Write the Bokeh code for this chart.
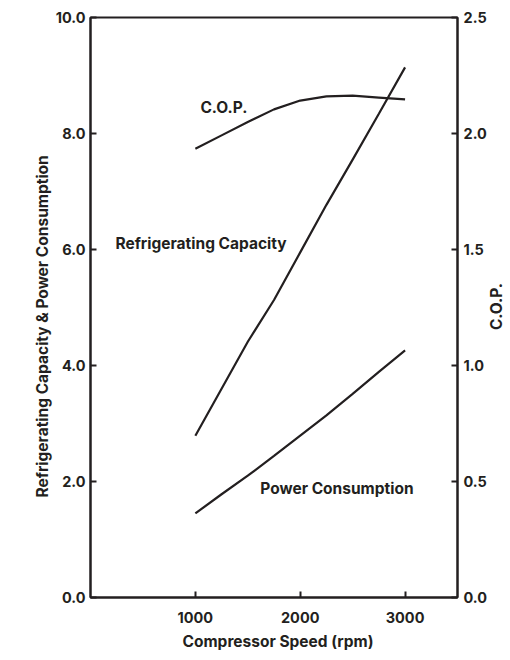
from bokeh.plotting import figure
from bokeh.models import Range1d, LinearAxis, FixedTicker, NumeralTickFormatter, Label, Title, Div
from bokeh.layouts import row
from bokeh.embed import file_html
from bokeh.resources import INLINE

# ---- data ----
speed = [1000, 1250, 1500, 1750, 2000, 2250, 2500, 2750, 3000]
refrigerating_capacity = [2.79, 3.60, 4.41, 5.13, 5.95, 6.77, 7.55, 8.34, 9.14]
power_consumption = [1.45, 1.78, 2.10, 2.44, 2.79, 3.14, 3.51, 3.89, 4.26]
cop = [1.934, 1.992, 2.050, 2.104, 2.142, 2.160, 2.163, 2.155, 2.147]

x_ticks = [1000, 2000, 3000]
left_ticks = [0, 2, 4, 6, 8, 10]
right_ticks = [0, 0.5, 1.0, 1.5, 2.0, 2.5]

INK = "#231f20"
FONT = "Inter"
TICK_SIZE = "14.5px"
TEXT_SIZE = "15.5px"

W, H = 490, 656
p = figure(width=W, height=H, output_backend="svg", toolbar_location=None,
           x_range=Range1d(0, 3500), y_range=Range1d(0, 10),
           min_border_left=90, min_border_right=W - 457, min_border_top=17,
           min_border_bottom=H - 597)
p.extra_y_ranges = {"cop": Range1d(0, 2.5)}
p.xgrid.visible = False
p.ygrid.visible = False
p.outline_line_color = INK
p.outline_line_width = 2
p.outline_line_alpha = 1.0
p.background_fill_color = "white"
p.border_fill_color = "white"

def style_axis(ax, standoff):
    ax.axis_line_color = INK
    ax.axis_line_width = 2
    ax.major_tick_line_color = INK
    ax.major_tick_line_width = 2
    ax.major_tick_in = 6
    ax.major_tick_out = 0
    ax.minor_tick_line_color = None
    ax.major_label_text_font = FONT
    ax.major_label_text_font_style = "bold"
    ax.major_label_text_font_size = TICK_SIZE
    ax.major_label_text_color = INK
    ax.major_label_standoff = standoff

xa = p.xaxis[0]
xa.ticker = FixedTicker(ticks=x_ticks)
xa.formatter = NumeralTickFormatter(format="0")
style_axis(xa, 14)

ya = p.yaxis[0]
ya.ticker = FixedTicker(ticks=left_ticks)
ya.formatter = NumeralTickFormatter(format="0.0")
style_axis(ya, 5)

ra = LinearAxis(y_range_name="cop")
ra.ticker = FixedTicker(ticks=right_ticks)
ra.formatter = NumeralTickFormatter(format="0.0")
style_axis(ra, 6)
p.add_layout(ra, "right")

p.line(speed, refrigerating_capacity, line_color=INK, line_width=2.2)
p.line(speed, power_consumption, line_color=INK, line_width=2.2)
p.line(speed, cop, line_color=INK, line_width=2.2, y_range_name="cop")

def txt(x, y, s, yr="default"):
    lab = Label(x=x, y=y, text=s, text_align="left", text_baseline="middle",
                text_font=FONT, text_font_style="bold", text_font_size=TEXT_SIZE,
                text_color=INK, y_range_name=yr)
    p.add_layout(lab)

txt(1048, 2.113, "C.O.P.", yr="cop")
txt(238, 6.10, "Refrigerating Capacity")
txt(1619, 1.88, "Power Consumption")

# axis titles as panel titles (offset along the axis from its start)
t_left = Title(text="Refrigerating Capacity & Power Consumption", align="left",
               offset=100, standoff=2, text_font=FONT, text_font_style="bold",
               text_font_size=TEXT_SIZE, text_color=INK)
p.add_layout(t_left, "left")
t_bottom = Title(text="Compressor Speed (rpm)", align="left", offset=92, standoff=8,
                 text_font=FONT, text_font_style="bold", text_font_size=TEXT_SIZE,
                 text_color=INK)
p.add_layout(t_bottom, "below")

# right-hand axis title, reading bottom to top
right_title = Div(
    text=('<div style="margin-top:278px; margin-left:-6px; writing-mode:vertical-rl; '
          'transform:rotate(180deg); font-family:Inter; font-weight:bold; '
          'font-size:15.5px; color:#231f20; white-space:nowrap; line-height:1;">'
          'C.O.P.</div>'),
    width=20, height=H)

layout = row(p, right_title, spacing=0)
open("out.html", "w").write(file_html(layout, INLINE))
